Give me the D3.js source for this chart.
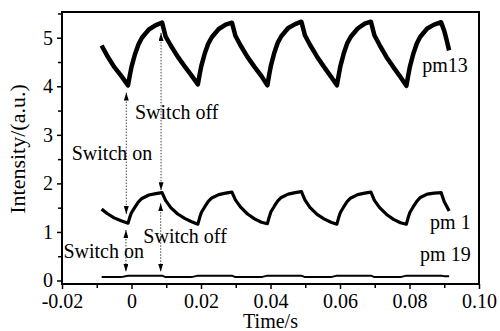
<!DOCTYPE html>
<html>
<head>
<meta charset="utf-8">
<script src="https://cdn.jsdelivr.net/npm/d3@7"></script>
<style>
  body { margin: 0; background: #fff; }
  svg text { font-family: "Liberation Serif", "Times New Roman", serif; fill: #000; }
</style>
</head>
<body>
<div id="chart"></div>
<script>
// time axis (s) shared by all three traces
const timeS = [
  -0.0086, -0.0070, -0.0050, -0.0030,
  -0.0010, -0.0005, 0.0000, 0.0010, 0.0020, 0.0030, 0.0050, 0.0070, 0.0088, 0.0098, 0.0113, 0.0133, 0.0153, 0.0173,
  0.0191, 0.0196, 0.0201, 0.0211, 0.0221, 0.0231, 0.0251, 0.0271, 0.0289, 0.0299, 0.0314, 0.0334, 0.0354, 0.0374,
  0.0391, 0.0396, 0.0401, 0.0411, 0.0421, 0.0431, 0.0451, 0.0471, 0.0489, 0.0499, 0.0514, 0.0534, 0.0554, 0.0574,
  0.0591, 0.0596, 0.0601, 0.0611, 0.0621, 0.0631, 0.0651, 0.0671, 0.0689, 0.0699, 0.0714, 0.0734, 0.0754, 0.0774,
  0.0791, 0.0796, 0.0801, 0.0811, 0.0821, 0.0831, 0.0851, 0.0871, 0.0891, 0.0900, 0.0907, 0.0914
];
const pm13 = [
  4.84, 4.63, 4.40, 4.22,
  4.02, 4.22, 4.40, 4.66, 4.86, 5.00, 5.17, 5.26, 5.31, 5.03, 4.84, 4.61, 4.41, 4.22,
  4.04, 4.24, 4.42, 4.68, 4.88, 5.01, 5.18, 5.27, 5.31, 5.04, 4.84, 4.60, 4.40, 4.21,
  4.02, 4.23, 4.42, 4.69, 4.90, 5.03, 5.20, 5.28, 5.33, 5.05, 4.85, 4.61, 4.40, 4.20,
  4.02, 4.22, 4.41, 4.68, 4.89, 5.02, 5.19, 5.29, 5.33, 5.05, 4.85, 4.60, 4.39, 4.19,
  4.01, 4.21, 4.40, 4.67, 4.88, 5.02, 5.19, 5.27, 5.32, 5.14, 4.95, 4.74
];
const pm1 = [
  1.47, 1.38, 1.29, 1.23,
  1.18, 1.30, 1.40, 1.51, 1.62, 1.69, 1.76, 1.79, 1.81, 1.65, 1.50, 1.37, 1.28, 1.21,
  1.16, 1.29, 1.40, 1.52, 1.63, 1.70, 1.77, 1.80, 1.82, 1.66, 1.51, 1.37, 1.27, 1.20,
  1.17, 1.30, 1.41, 1.53, 1.64, 1.71, 1.78, 1.81, 1.83, 1.66, 1.50, 1.36, 1.27, 1.20,
  1.16, 1.29, 1.40, 1.52, 1.63, 1.70, 1.77, 1.80, 1.82, 1.65, 1.50, 1.36, 1.26, 1.19,
  1.16, 1.29, 1.40, 1.52, 1.63, 1.71, 1.78, 1.80, 1.81, 1.62, 1.53, 1.43
];
const pm19 = [
  0.07, 0.07, 0.07, 0.07,
  0.10, 0.10, 0.10, 0.10, 0.10, 0.10, 0.10, 0.10, 0.10, 0.07, 0.07, 0.07, 0.07, 0.07,
  0.10, 0.10, 0.10, 0.10, 0.10, 0.10, 0.10, 0.10, 0.10, 0.07, 0.07, 0.07, 0.07, 0.07,
  0.10, 0.10, 0.10, 0.10, 0.10, 0.10, 0.10, 0.10, 0.10, 0.07, 0.07, 0.07, 0.07, 0.07,
  0.10, 0.10, 0.10, 0.10, 0.10, 0.10, 0.10, 0.10, 0.10, 0.07, 0.07, 0.07, 0.07, 0.07,
  0.10, 0.10, 0.10, 0.10, 0.10, 0.10, 0.10, 0.10, 0.10, 0.09, 0.09, 0.09
];

const xTicks = [-0.02, 0, 0.02, 0.04, 0.06, 0.08, 0.10];
const xMinor = [-0.01, 0.01, 0.03, 0.05, 0.07, 0.09];
const yTicks = [0, 1, 2, 3, 4, 5];
const yMinor = [0.5, 1.5, 2.5, 3.5, 4.5, 5.5];

// double-headed switch arrows: time, top tip, bottom tip
const arrowT = [-0.0015, 0.0085, -0.0016, 0.0084];
const arrowTop = [3.87, 5.10, 1.04, 1.59];
const arrowBottom = [1.37, 1.86, 0.18, 0.18];

// annotations
const noteText = ["Switch on", "Switch off", "Switch off", "Switch on", "pm13", "pm 1", "pm 19"];
const noteT = [-0.0172, 0.0010, 0.0034, -0.0196, 0.0968, 0.0976, 0.0976];
const noteY = [2.48, 3.33, 0.78, 0.46, 4.29, 1.07, 0.41];
const noteAnchor = ["start", "start", "start", "start", "end", "end", "end"];

const W = 500, H = 331;
const margin = {top: 12, right: 21, bottom: 47, left: 62};
const w = W - margin.left - margin.right;
const h = H - margin.top - margin.bottom;

const svg = d3.select("#chart").append("svg")
  .attr("width", W).attr("height", H);

const defs = svg.append("defs");
defs.append("marker")
  .attr("id", "head")
  .attr("viewBox", "0 0 8 5")
  .attr("refX", 8).attr("refY", 2.5)
  .attr("markerWidth", 8).attr("markerHeight", 5)
  .attr("markerUnits", "userSpaceOnUse")
  .attr("orient", "auto-start-reverse")
  .append("path").attr("d", "M0,0L8,2.5L0,5Z").attr("fill", "#000");

const g = svg.append("g").attr("transform", `translate(${margin.left},${margin.top})`);

const x = d3.scaleLinear().domain([-0.02, 0.10]).range([0, w]);
const y = d3.scaleLinear().domain([-0.072, 5.53]).range([h, 0]);

// axes
const fmtX = d => d === 0 ? "0" : d.toFixed(2);
const xAxis = g.append("g").attr("transform", `translate(0,${h})`)
  .call(d3.axisBottom(x).tickValues(xTicks).tickFormat(fmtX).tickSize(5).tickPadding(5).tickSizeOuter(0));
g.append("g").attr("transform", `translate(0,${h})`)
  .call(d3.axisBottom(x).tickValues(xMinor).tickFormat("").tickSize(4).tickSizeOuter(0));
const yAxis = g.append("g")
  .call(d3.axisLeft(y).tickValues(yTicks).tickFormat(d3.format("d")).tickSize(5).tickPadding(4).tickSizeOuter(0));
g.append("g")
  .call(d3.axisLeft(y).tickValues(yMinor).tickFormat("").tickSize(4).tickSizeOuter(0));

g.selectAll(".domain").remove();
g.selectAll(".tick line").attr("stroke", "#000").attr("stroke-width", 1.5);
g.selectAll(".tick text").style("font-size", "20px").attr("fill", "#000");

// frame
g.append("rect").attr("x", 0).attr("y", 0).attr("width", w).attr("height", h)
  .attr("fill", "none").attr("stroke", "#000").attr("stroke-width", 2);

// traces
const pts = vals => timeS.map((t, i) => [t, vals[i]]);
const line = d3.line().x(d => x(d[0])).y(d => y(d[1]));

g.append("path").datum(pts(pm13)).attr("d", line)
  .attr("fill", "none").attr("stroke", "#000").attr("stroke-width", 4.5)
  .attr("stroke-linejoin", "round");
g.append("path").datum(pts(pm1)).attr("d", line)
  .attr("fill", "none").attr("stroke", "#000").attr("stroke-width", 3.2)
  .attr("stroke-linejoin", "round");
g.append("path").datum(pts(pm19)).attr("d", line)
  .attr("fill", "none").attr("stroke", "#000").attr("stroke-width", 2)
  .attr("stroke-linejoin", "round");

// switch arrows
g.selectAll(".arrow").data(arrowT).enter().append("line")
  .attr("class", "arrow")
  .attr("x1", d => x(d)).attr("x2", d => x(d))
  .attr("y1", (d, i) => y(arrowTop[i])).attr("y2", (d, i) => y(arrowBottom[i]))
  .attr("stroke", "#444").attr("stroke-width", 1)
  .attr("stroke-dasharray", "1.5,1.5")
  .attr("marker-start", "url(#head)").attr("marker-end", "url(#head)");

// annotations
g.selectAll(".note").data(noteText).enter().append("text")
  .attr("class", "note")
  .attr("x", (d, i) => x(noteT[i])).attr("y", (d, i) => y(noteY[i]))
  .attr("text-anchor", (d, i) => noteAnchor[i])
  .style("font-size", "20px")
  .text(d => d);

// axis titles
svg.append("text")
  .attr("x", margin.left + w / 2).attr("y", 328)
  .attr("text-anchor", "middle").style("font-size", "20px")
  .text("Time/s");
svg.append("text")
  .attr("transform", `translate(25,${margin.top + 137}) rotate(-90)`)
  .attr("text-anchor", "middle").style("font-size", "22px")
  .text("Intensity/(a.u.)");
</script>
</body>
</html>
